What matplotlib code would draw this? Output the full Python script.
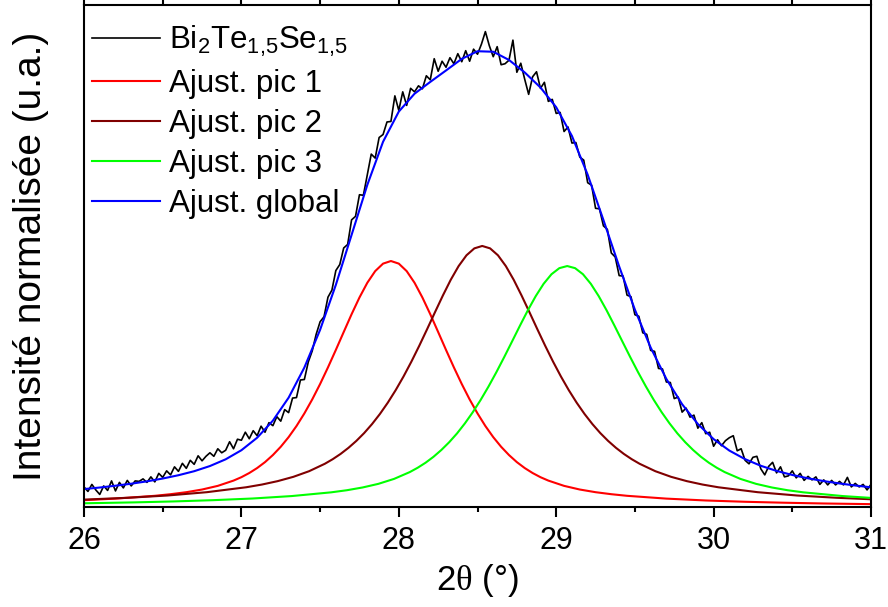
import numpy as np
import matplotlib
matplotlib.use("Agg")
import matplotlib.pyplot as plt
from matplotlib.ticker import MultipleLocator

# --- data (intensity normalised to the plot height) ---

# measured pattern, 2theta grid 26..31 step 0.025
theta_meas = np.linspace(26.0, 31.0, 201)
intensity_meas = [
    0.040, 0.031, 0.045, 0.034, 0.025, 0.042, 0.033, 0.052, 0.032, 0.049,
    0.038, 0.053, 0.042, 0.052, 0.051, 0.056, 0.049, 0.060, 0.050, 0.067,
    0.059, 0.072, 0.064, 0.080, 0.071, 0.087, 0.077, 0.093, 0.085, 0.102,
    0.092, 0.101, 0.108, 0.101, 0.116, 0.108, 0.113, 0.130, 0.116, 0.135,
    0.133, 0.149, 0.136, 0.152, 0.142, 0.161, 0.149, 0.168, 0.162, 0.180,
    0.171, 0.194, 0.188, 0.217, 0.218, 0.253, 0.254, 0.289, 0.311, 0.344,
    0.369, 0.379, 0.418, 0.432, 0.471, 0.483, 0.516, 0.523, 0.572, 0.579,
    0.622, 0.621, 0.662, 0.703, 0.695, 0.736, 0.742, 0.767, 0.768, 0.819,
    0.790, 0.827, 0.800, 0.834, 0.827, 0.839, 0.833, 0.859, 0.851, 0.893,
    0.868, 0.888, 0.876, 0.895, 0.883, 0.903, 0.887, 0.909, 0.888, 0.912,
    0.902, 0.922, 0.947, 0.919, 0.897, 0.917, 0.881, 0.883, 0.890, 0.930,
    0.866, 0.884, 0.852, 0.822, 0.857, 0.867, 0.834, 0.846, 0.808, 0.812,
    0.784, 0.786, 0.748, 0.757, 0.725, 0.726, 0.697, 0.691, 0.646, 0.641,
    0.595, 0.594, 0.560, 0.553, 0.506, 0.498, 0.461, 0.460, 0.422, 0.419,
    0.383, 0.380, 0.347, 0.344, 0.312, 0.310, 0.276, 0.275, 0.249, 0.248,
    0.216, 0.219, 0.189, 0.197, 0.179, 0.183, 0.157, 0.168, 0.146, 0.149,
    0.121, 0.134, 0.122, 0.132, 0.138, 0.142, 0.112, 0.116, 0.093, 0.086,
    0.099, 0.101, 0.076, 0.064, 0.081, 0.089, 0.068, 0.080, 0.060, 0.062,
    0.072, 0.058, 0.067, 0.053, 0.061, 0.054, 0.060, 0.045, 0.054, 0.044,
    0.053, 0.044, 0.051, 0.044, 0.059, 0.040, 0.047, 0.040, 0.045, 0.034,
    0.045,
]

# peak 1 fit (centre ~27.95)
theta_pic1 = [
    26.0, 26.2, 26.45, 26.55, 26.65, 26.75, 26.85, 26.95,
    27.0, 27.05, 27.1, 27.15, 27.2, 27.25, 27.3, 27.35, 27.4, 27.45,
    27.5, 27.55, 27.6, 27.65, 27.7, 27.75, 27.8, 27.85, 27.9, 27.95,
    28.0, 28.05, 28.1, 28.15, 28.2, 28.25, 28.3, 28.35, 28.4, 28.45,
    28.5, 28.55, 28.6, 28.65, 28.7, 28.75, 28.8, 28.85, 28.9, 28.95,
    29.05, 29.15, 29.25, 29.35, 29.45, 29.7, 29.95, 30.2, 30.45, 30.7,
    30.95, 31.0,
]
fit_pic1 = [
    0.0136, 0.0167, 0.0223, 0.0255, 0.0295, 0.0348, 0.0421, 0.0526,
    0.0594, 0.0677, 0.0776, 0.0894, 0.1035, 0.1200, 0.1392, 0.1613, 0.1864, 0.2143,
    0.2450, 0.2781, 0.3129, 0.3486, 0.3840, 0.4173, 0.4467, 0.4699, 0.4848, 0.4900,
    0.4848, 0.4699, 0.4467, 0.4173, 0.3840, 0.3486, 0.3129, 0.2781, 0.2450, 0.2143,
    0.1864, 0.1613, 0.1392, 0.1200, 0.1035, 0.0894, 0.0776, 0.0677, 0.0594, 0.0526,
    0.0421, 0.0348, 0.0295, 0.0255, 0.0223, 0.0167, 0.0130, 0.0104, 0.0085, 0.0070,
    0.0059, 0.0057,
]

# peak 2 fit (centre ~28.53)
theta_pic2 = [
    26.0, 26.28, 26.53, 26.78, 27.03, 27.13, 27.23, 27.33, 27.43, 27.53,
    27.58, 27.63, 27.68, 27.73, 27.78, 27.83, 27.88, 27.93, 27.98, 28.03,
    28.08, 28.13, 28.18, 28.23, 28.28, 28.33, 28.38, 28.43, 28.48, 28.53,
    28.58, 28.63, 28.68, 28.73, 28.78, 28.83, 28.88, 28.93, 28.98, 29.03,
    29.08, 29.13, 29.18, 29.23, 29.28, 29.33, 29.38, 29.43, 29.48, 29.53,
    29.63, 29.73, 29.83, 29.93, 30.03, 30.28, 30.53, 30.78, 31.0,
]
fit_pic2 = [
    0.0147, 0.0184, 0.0229, 0.0295, 0.0393, 0.0447, 0.0515, 0.0601, 0.0713, 0.0861,
    0.0952, 0.1057, 0.1178, 0.1316, 0.1473, 0.1652, 0.1853, 0.2078, 0.2327, 0.2600,
    0.2896, 0.3212, 0.3543, 0.3881, 0.4213, 0.4526, 0.4799, 0.5014, 0.5152, 0.5200,
    0.5152, 0.5014, 0.4799, 0.4526, 0.4213, 0.3881, 0.3543, 0.3212, 0.2896, 0.2600,
    0.2327, 0.2078, 0.1853, 0.1652, 0.1473, 0.1316, 0.1178, 0.1057, 0.0952, 0.0861,
    0.0713, 0.0601, 0.0515, 0.0447, 0.0393, 0.0295, 0.0229, 0.0184, 0.0154,
]

# peak 3 fit (centre ~29.07)
theta_pic3 = [
    26.0, 26.32, 26.57, 26.82, 27.07, 27.32, 27.57, 27.67, 27.77, 27.87,
    27.97, 28.07, 28.12, 28.17, 28.22, 28.27, 28.32, 28.37, 28.42, 28.47,
    28.52, 28.57, 28.62, 28.67, 28.72, 28.77, 28.82, 28.87, 28.92, 28.97,
    29.02, 29.07, 29.12, 29.17, 29.22, 29.27, 29.32, 29.37, 29.42, 29.47,
    29.52, 29.57, 29.62, 29.67, 29.72, 29.77, 29.82, 29.87, 29.92, 29.97,
    30.02, 30.07, 30.17, 30.27, 30.37, 30.47, 30.57, 30.82, 31.0,
]
fit_pic3 = [
    0.0074, 0.0092, 0.0111, 0.0136, 0.0169, 0.0218, 0.0292, 0.0334, 0.0389, 0.0461,
    0.0560, 0.0696, 0.0782, 0.0882, 0.0999, 0.1135, 0.1290, 0.1466, 0.1666, 0.1888,
    0.2133, 0.2400, 0.2686, 0.2988, 0.3300, 0.3614, 0.3919, 0.4201, 0.4446, 0.4637,
    0.4758, 0.4800, 0.4758, 0.4637, 0.4446, 0.4201, 0.3919, 0.3614, 0.3300, 0.2988,
    0.2686, 0.2400, 0.2133, 0.1888, 0.1666, 0.1466, 0.1290, 0.1135, 0.0999, 0.0882,
    0.0782, 0.0696, 0.0560, 0.0461, 0.0389, 0.0334, 0.0292, 0.0218, 0.0181,
]

# global fit, step 0.1
theta_global = np.linspace(26.0, 31.0, 51)
fit_global = [
    0.0357, 0.0388, 0.0424, 0.0464, 0.0511, 0.0567, 0.0633, 0.0713, 0.0816, 0.0950,
    0.1131, 0.1380, 0.1720, 0.2178, 0.2778, 0.3530, 0.4425, 0.5420, 0.6417, 0.7276,
    0.7877, 0.8233, 0.8468, 0.8696, 0.8927, 0.9079, 0.9069, 0.8905, 0.8656, 0.8357,
    0.7963, 0.7391, 0.6619, 0.5717, 0.4792, 0.3930, 0.3177, 0.2550, 0.2047, 0.1653,
    0.1352, 0.1124, 0.0953, 0.0821, 0.0719, 0.0638, 0.0571, 0.0516, 0.0469, 0.0428,
    0.0392,
]

labels = [r"Bi$_2$Te$_{1{,}5}$Se$_{1{,}5}$", "Ajust. pic 1", "Ajust. pic 2",
          "Ajust. pic 3", "Ajust. global"]
colors = ["black", "#ff0000", "#800000", "#00ff00", "#0000ff"]

plt.rcParams["font.family"] = ["Liberation Sans", "DejaVu Sans"]
plt.rcParams["mathtext.fontset"] = "custom"
plt.rcParams["mathtext.rm"] = "Liberation Sans"
plt.rcParams["mathtext.it"] = "Liberation Sans:italic"
plt.rcParams["mathtext.sf"] = "Liberation Serif"

fig = plt.figure(figsize=(8.88, 6.07), dpi=100)
ax = fig.add_axes([84 / 888, 1 - 507 / 607, 787 / 888, 502 / 607])

ax.plot(theta_meas, intensity_meas, color=colors[0], lw=1.2, label=labels[0])
ax.plot(theta_pic1, fit_pic1, color=colors[1], lw=1.5, label=labels[1])
ax.plot(theta_pic2, fit_pic2, color=colors[2], lw=1.5, label=labels[2])
ax.plot(theta_pic3, fit_pic3, color=colors[3], lw=1.5, label=labels[3])
ax.plot(theta_global, fit_global, color=colors[4], lw=1.5, label=labels[4])

ax.set_xlim(26, 31)
ax.set_ylim(0, 1)
ax.set_yticks([])
ax.xaxis.set_major_locator(MultipleLocator(1))
ax.xaxis.set_minor_locator(MultipleLocator(0.5))
ax.tick_params(axis="x", which="major", direction="out", length=7, width=1.5,
               labelsize=22, pad=6.5, top=True)
ax.tick_params(axis="x", which="minor", direction="out", length=3.5, width=1.5,
               top=True)
for sp in ax.spines.values():
    sp.set_linewidth(1.5)

ax.set_xlabel(r"2$\mathsf{\theta}$ (°)", fontsize=25)
ax.xaxis.set_label_coords(0.5, -0.11)
ax.set_ylabel("Intensité normalisée (u.a.)", fontsize=28)
ax.yaxis.set_label_coords(-0.045, 0.5)

ax.legend(loc="upper left", bbox_to_anchor=(-0.004, 0.985), frameon=False,
          fontsize=22.5, handlelength=2.18, handletextpad=0.3,
          labelspacing=0.32, borderaxespad=0.3, borderpad=0.05)

fig.savefig("out.png", dpi=100)
